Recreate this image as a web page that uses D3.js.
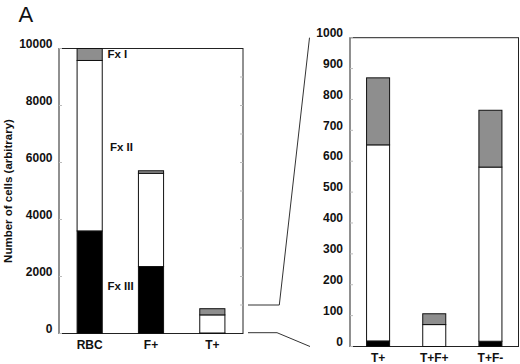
<!DOCTYPE html>
<html>
<head>
<meta charset="utf-8">
<script src="https://cdn.jsdelivr.net/npm/d3@7"></script>
<style>
  body { margin: 0; background: #fff; }
  svg { display: block; font-family: "Liberation Sans", Arial, sans-serif; }
  .tick-label { font-size: 12px; font-weight: bold; fill: #111; }
</style>
</head>
<body>
<svg id="chart" width="520" height="364"></svg>
<script>
// data (cell counts, arbitrary units)
const leftCategories = ["RBC", "F+", "T+"];
const leftFx3 = [3600, 2350, 18];
const leftFx2 = [5980, 3270, 635];
const leftFx1 = [420, 90, 217];
const leftTicks = [0, 2000, 4000, 6000, 8000, 10000];

const rightCategories = ["T+", "T+F+", "T+F-"];
const rightFx3 = [18, 0, 17];
const rightFx2 = [635, 71, 564];
const rightFx1 = [217, 35, 184];
const rightTicks = [0, 100, 200, 300, 400, 500, 600, 700, 800, 900, 1000];

const seriesKeys = ["fx3", "fx2", "fx1"];
const fillFor = { fx3: "#000", fx2: "#fff", fx1: "#8e8e8e" };

const svg = d3.select("#chart");

function panel(cats, fx3, fx2, fx1, ticks, xr, yr, maxV, labelRight, xLabelY, minorStep) {
  const rows = cats.map((c, i) => ({ cat: c, fx3: fx3[i], fx2: fx2[i], fx1: fx1[i] }));
  const x = d3.scaleBand().domain(cats).range(xr).padding(0);
  const y = d3.scaleLinear().domain([0, maxV]).range(yr);
  const bw = x.bandwidth() * 0.41;

  const g = svg.append("g");

  // frame
  g.append("rect")
    .attr("x", xr[0]).attr("y", yr[1])
    .attr("width", xr[1] - xr[0]).attr("height", yr[0] - yr[1])
    .attr("fill", "none").attr("stroke", "#222").attr("stroke-width", 1);

  const stacked = d3.stack().keys(seriesKeys)(rows);
  stacked.forEach(s => {
    g.selectAll(null)
      .data(s.filter(d => d[1] > d[0]))
      .join("rect")
      .attr("x", d => x(d.data.cat) + x.bandwidth() / 2 - bw / 2)
      .attr("y", d => y(d[1]))
      .attr("width", bw)
      .attr("height", d => y(d[0]) - y(d[1]))
      .attr("fill", fillFor[s.key])
      .attr("stroke", "#111")
      .attr("stroke-width", 1);
  });

  // small inside ticks
  g.selectAll(null).data(ticks).join("line")
    .attr("x1", xr[0]).attr("x2", xr[0] + 3)
    .attr("y1", d => y(d)).attr("y2", d => y(d))
    .attr("stroke", "#bbb");
  if (minorStep) {
    g.selectAll(null).data(d3.range(minorStep, maxV, minorStep)).join("line")
      .attr("x1", xr[1] - 3).attr("x2", xr[1])
      .attr("y1", d => y(d)).attr("y2", d => y(d))
      .attr("stroke", "#bbb");
  }

  g.selectAll(null).data(ticks).join("text")
    .attr("class", "tick-label")
    .attr("x", labelRight)
    .attr("y", d => y(d) - 5)
    .attr("dy", "0.35em")
    .attr("text-anchor", "end")
    .text(d => d);

  g.selectAll(null).data(cats).join("text")
    .attr("class", "tick-label")
    .attr("x", d => x(d) + x.bandwidth() / 2)
    .attr("y", xLabelY)
    .attr("text-anchor", "middle")
    .text(d => d);

  return { x, y };
}

const L = panel(leftCategories, leftFx3, leftFx2, leftFx1, leftTicks,
  [59, 243], [333.5, 48.5], 10000, 52.5, 348.5, 1000);
const R = panel(rightCategories, rightFx3, rightFx2, rightFx1, rightTicks,
  [350, 518.5], [346.5, 37.7], 1000, 343, 361.5, 0);

// zoom connector lines (left 0..1000 -> right 0..1000)
const conn = d3.line();
svg.append("path")
  .attr("d", conn([[248, L.y(1000)], [279.3, L.y(1000)], [309.5, R.y(1000)]]))
  .attr("fill", "none").attr("stroke", "#333");
svg.append("path")
  .attr("d", conn([[248, L.y(0) - 0.8], [277, L.y(0) - 0.8], [310, R.y(0)]]))
  .attr("fill", "none").attr("stroke", "#333");

// fraction labels
const fx = [
  { t: "Fx I", x: 107.5, y: 58 },
  { t: "Fx II", x: 110, y: 150.5 },
  { t: "Fx III", x: 107.5, y: 289.5 }
];
svg.selectAll(null).data(fx).join("text")
  .attr("class", "tick-label")
  .style("font-size", "11.5px")
  .attr("x", d => d.x).attr("y", d => d.y)
  .text(d => d.t);

// y title
svg.append("text")
  .attr("class", "tick-label")
  .style("font-size", "11.5px")
  .attr("transform", "translate(12,191) rotate(-90)")
  .attr("text-anchor", "middle")
  .text("Number of cells (arbitrary)");

// panel letter
svg.append("text")
  .attr("x", 18.5).attr("y", 22)
  .style("font-size", "22px")
  .attr("fill", "#111")
  .text("A");
</script>
</body>
</html>
